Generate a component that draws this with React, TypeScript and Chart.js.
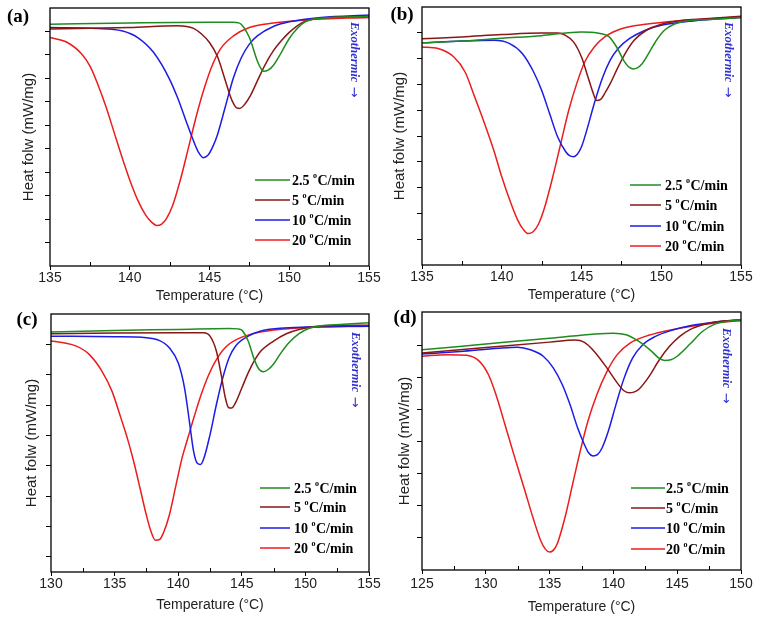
import React, { useEffect, useRef } from "react";
import { Chart, registerables } from "chart.js";

Chart.register(...registerables);

// ---------- data ----------
const rateLabels = ["2.5", "5", "10", "20"];
const rateColors = ["#1e8c1e", "#8a1616", "#1c1ce6", "#ec1c1c"];
const panelTags = ["(a)", "(b)", "(c)", "(d)"];
const xTitle = "Temperature (°C)";
const yTitle = "Heat folw (mW/mg)";
const exoWord = "Exothermic";
const exoArrow = "→";

type P = [number, number];

// panel (a)
const aGreen: P[] = [[135,10.31],[140,10.36],[145,10.39],[146.5,10.39],[146.8,10.37],[147,10.3],[147.5,9.74],[148,8.74],[148.2,8.45],[148.4,8.3],[148.7,8.36],[149,8.55],[149.5,9.1],[150,9.7],[150.5,10.13],[151,10.41],[152,10.56],[155,10.64]];
const aDarkRed: P[] = [[135,10.1],[140,10.17],[143,10.24],[144,10.13],[144.5,9.89],[145,9.53],[145.5,8.93],[146,7.89],[146.3,7.25],[146.5,6.93],[146.7,6.74],[146.9,6.72],[147.2,6.89],[147.6,7.31],[148,7.89],[148.5,8.6],[149,9.17],[149.5,9.6],[150,9.96],[150.5,10.24],[151,10.44],[152,10.57],[155,10.64]];
const aBlue: P[] = [[135,10.17],[138,10.13],[139.5,10.03],[140.5,9.74],[141.5,9.1],[142.5,7.96],[143,7.17],[143.5,6.24],[144,5.33],[144.3,4.86],[144.6,4.62],[144.9,4.72],[145.2,5.08],[145.5,5.6],[146,6.81],[146.5,8.03],[147,8.89],[147.5,9.46],[148,9.81],[149,10.21],[150,10.41],[152,10.6],[155,10.7]];
const aRed: P[] = [[135,9.74],[136,9.56],[137,9.03],[137.5,8.53],[138,7.74],[138.5,6.81],[139,5.74],[139.5,4.67],[140,3.67],[140.5,2.81],[141,2.17],[141.35,1.88],[141.7,1.73],[142,1.79],[142.3,2.02],[142.7,2.6],[143.2,3.74],[143.7,5.1],[144.2,6.46],[144.7,7.64],[145.2,8.6],[145.7,9.27],[146.5,9.81],[147.5,10.17],[149,10.36],[151,10.49],[155,10.6]];
const aYTicks = [1, 2, 3, 4, 5, 6, 7, 8, 9, 10];

// panel (b)
const bGreen: P[] = [[135,8.61],[137.5,8.68],[140,8.79],[142.5,8.89],[144,8.99],[145,9.03],[146,8.99],[146.7,8.86],[147.2,8.45],[147.7,7.87],[148,7.66],[148.25,7.6],[148.5,7.64],[148.8,7.8],[149.2,8.19],[149.7,8.71],[150.2,9.1],[150.8,9.33],[151.5,9.45],[153,9.52],[155,9.59]];
const bDarkRed: P[] = [[135,8.77],[137.5,8.84],[140,8.93],[142.5,8.99],[143.5,8.99],[144,8.9],[144.5,8.65],[145,8.06],[145.4,7.3],[145.7,6.72],[145.95,6.38],[146.2,6.42],[146.5,6.7],[146.8,7.03],[147.3,7.68],[147.8,8.26],[148.3,8.71],[149,9.07],[150,9.33],[151,9.46],[153,9.55],[155,9.64]];
const bBlue: P[] = [[135,8.61],[137.5,8.68],[139.5,8.71],[140.5,8.58],[141.3,8.19],[142,7.48],[142.5,6.77],[143,5.87],[143.5,4.97],[144,4.4],[144.25,4.24],[144.5,4.2],[144.75,4.3],[145,4.58],[145.3,5.16],[145.8,6.26],[146.3,7.23],[146.8,7.94],[147.3,8.39],[148,8.77],[149,9.1],[150,9.29],[152,9.46],[155,9.59]];
const bRed: P[] = [[135,8.45],[136,8.39],[137,8.06],[137.7,7.48],[138.3,6.52],[139,5.35],[139.5,4.45],[140,3.42],[140.5,2.52],[141,1.74],[141.35,1.38],[141.65,1.22],[141.95,1.28],[142.3,1.58],[142.7,2.26],[143.2,3.42],[143.7,4.71],[144.2,6.0],[144.7,7.03],[145.2,7.87],[145.8,8.45],[146.5,8.86],[147.5,9.16],[149,9.33],[151,9.46],[155,9.61]];
const bYTicks = [1, 2, 3, 4, 5, 6, 7, 8, 9];

// panel (c)
const cGreen: P[] = [[130,7.91],[135,7.96],[140,7.99],[144,8.02],[144.7,8.01],[145,7.97],[145.5,7.61],[146,6.98],[146.35,6.68],[146.7,6.6],[147.1,6.68],[147.5,6.85],[148,7.17],[148.7,7.55],[149.5,7.85],[150.3,8.03],[151,8.1],[153,8.16],[155,8.21]];
const cDarkRed: P[] = [[130,7.85],[135,7.87],[140,7.88],[142,7.88],[142.5,7.77],[143,7.28],[143.4,6.45],[143.7,5.75],[143.95,5.42],[144.2,5.4],[144.5,5.57],[145,6.06],[145.5,6.56],[146,6.97],[146.5,7.28],[147.5,7.61],[148.5,7.85],[149.5,7.99],[151,8.1],[155,8.13]];
const cBlue: P[] = [[130,7.77],[135,7.75],[137.5,7.72],[138.5,7.63],[139.3,7.39],[140,6.89],[140.5,6.06],[140.9,4.9],[141.2,4.0],[141.5,3.58],[141.75,3.54],[142,3.72],[142.5,4.52],[143,5.51],[143.5,6.39],[144,7.06],[144.5,7.44],[145.5,7.77],[146.5,7.94],[148,8.03],[150,8.07],[155,8.1]];
const cRed: P[] = [[130,7.61],[131,7.55],[132,7.44],[133,7.17],[134,6.62],[134.8,5.95],[135.5,5.07],[136,4.41],[136.5,3.64],[137,2.76],[137.5,1.87],[137.85,1.35],[138.2,1.05],[138.5,1.06],[138.85,1.3],[139.3,1.87],[139.8,2.81],[140.3,3.75],[140.8,4.47],[141.3,5.18],[141.8,5.84],[142.4,6.5],[143,7.0],[143.8,7.44],[145,7.74],[147,7.94],[150,8.05],[155,8.1]];
const cYTicks = [0.5, 1.5, 2.5, 3.5, 4.5, 5.5, 6.5, 7.5];

// panel (d)
const dGreen: P[] = [[125,6.87],[130,7.05],[135,7.23],[140,7.39],[141,7.34],[142,7.13],[143,6.82],[143.6,6.6],[144,6.54],[144.5,6.56],[145,6.67],[146,7.05],[147,7.45],[148,7.68],[149,7.76],[150,7.81]];
const dDarkRed: P[] = [[125,6.77],[130,6.94],[135,7.11],[137,7.18],[137.7,7.11],[138.5,6.82],[139.5,6.3],[140.3,5.84],[140.8,5.6],[141.2,5.53],[141.6,5.55],[142,5.64],[142.8,6.04],[143.6,6.56],[144.4,6.98],[145.2,7.29],[146,7.5],[147,7.65],[148,7.74],[150,7.81]];
const dBlue: P[] = [[125,6.74],[128,6.82],[131,6.92],[132.5,6.95],[133.5,6.87],[134.5,6.67],[135.3,6.3],[136,5.78],[136.6,5.16],[137.2,4.43],[137.7,3.94],[138.05,3.66],[138.4,3.56],[138.75,3.6],[139.1,3.8],[139.6,4.33],[140.2,5.16],[140.8,5.94],[141.5,6.61],[142.3,7.03],[143.3,7.29],[144.5,7.47],[146,7.62],[148,7.74],[150,7.81]];
const dRed: P[] = [[125,6.67],[127,6.72],[128.5,6.7],[129.5,6.51],[130.2,6.1],[130.8,5.47],[131.5,4.54],[132.2,3.6],[133,2.56],[133.7,1.63],[134.3,0.92],[134.65,0.66],[135,0.56],[135.3,0.62],[135.6,0.82],[136.2,1.63],[136.8,2.67],[137.4,3.71],[138,4.64],[138.7,5.47],[139.5,6.2],[140.3,6.72],[141.3,7.08],[142.5,7.29],[144,7.45],[146,7.6],[148,7.71],[150,7.78]];
const dYTicks = [1, 2, 3, 4, 5, 6, 7];

// axis ranges
const xRanges: P[] = [[135, 155], [135, 155], [130, 155], [125, 150]];
const yRanges: P[] = [[0, 11], [0, 10], [0, 8.5], [0, 8.05]];

// ---------- layout ----------
type Cfg = {
  idx: number;
  left: number; top: number; w: number; h: number;
  area: { l: number; r: number; t: number; b: number };
  series: P[][];
  yTicks: number[];
  yTitlePad: number; xTitlePad: number; xTickPad: number;
  tag: [number, number];
  legend: { x1: number; x2: number; tx: number; rows: number[] };
  exo: [number, number];
};

const panels: Cfg[] = [
  { idx: 0, left: 0, top: 0, w: 400, h: 305, area: { l: 50, r: 369, t: 8, b: 266 },
    series: [aGreen, aDarkRed, aBlue, aRed], yTicks: aYTicks, yTitlePad: 20, xTitlePad: 0.6, xTickPad: 0,
    tag: [18, 17], legend: { x1: 255, x2: 290, tx: 292, rows: [180, 200, 220, 240] }, exo: [354, 22] },
  { idx: 1, left: 379, top: 0, w: 379, h: 305, area: { l: 43, r: 362, t: 7, b: 265 },
    series: [bGreen, bDarkRed, bBlue, bRed], yTicks: bYTicks, yTitlePad: 12, xTitlePad: 1.6, xTickPad: 0,
    tag: [23, 15], legend: { x1: 251, x2: 282, tx: 286, rows: [185, 205, 226, 246] }, exo: [349, 22] },
  { idx: 2, left: 0, top: 305, w: 400, h: 314, area: { l: 51, r: 369, t: 9, b: 267 },
    series: [cGreen, cDarkRed, cBlue, cRed], yTicks: cYTicks, yTitlePad: 23, xTitlePad: 5.6, xTickPad: 0,
    tag: [27, 15], legend: { x1: 260, x2: 290, tx: 294, rows: [183, 202, 223, 243] }, exo: [355, 27] },
  { idx: 3, left: 379, top: 305, w: 379, h: 314, area: { l: 43, r: 362, t: 7, b: 265 },
    series: [dGreen, dDarkRed, dBlue, dRed], yTicks: dYTicks, yTitlePad: 17, xTitlePad: 3.6, xTickPad: 2,
    tag: [26, 13], legend: { x1: 252, x2: 286, tx: 287, rows: [183, 203, 223, 244] }, exo: [347, 23] },
];

const SANS = '"Liberation Sans", Arial, sans-serif';
const SERIF = '"Liberation Serif", "Times New Roman", serif';

function Panel({ cfg }: { cfg: Cfg }) {
  const ref = useRef<HTMLCanvasElement>(null);
  useEffect(() => {
    const canvas = ref.current;
    if (!canvas) return;
    const [xMin, xMax] = xRanges[cfg.idx];
    const [yMin, yMax] = yRanges[cfg.idx];
    const overlay = {
      id: "overlay",
      afterDatasetsDraw(chart: any) {
        const ctx = chart.ctx as CanvasRenderingContext2D;
        const ca = chart.chartArea;
        const xs = chart.scales.x;
        ctx.save();
        // frame
        ctx.strokeStyle = "#000";
        ctx.lineWidth = 1.3;
        ctx.strokeRect(ca.left, ca.top, ca.right - ca.left, ca.bottom - ca.top);
        // minor x ticks (inward)
        ctx.lineWidth = 1;
        for (let v = xMin + 2.5; v < xMax; v += 5) {
          const px = Math.round(xs.getPixelForValue(v)) + 0.5;
          ctx.beginPath();
          ctx.moveTo(px, ca.bottom);
          ctx.lineTo(px, ca.bottom - 4);
          ctx.stroke();
        }
        // panel tag
        ctx.fillStyle = "#000";
        ctx.font = `bold 19px ${SERIF}`;
        ctx.textAlign = "center";
        ctx.textBaseline = "middle";
        ctx.fillText(panelTags[cfg.idx], cfg.tag[0], cfg.tag[1]);
        // legend
        ctx.textAlign = "left";
        cfg.legend.rows.forEach((y, i) => {
          ctx.strokeStyle = rateColors[i];
          ctx.lineWidth = 1.5;
          ctx.beginPath();
          ctx.moveTo(cfg.legend.x1, y);
          ctx.lineTo(cfg.legend.x2, y);
          ctx.stroke();
          ctx.fillStyle = "#000";
          let x = cfg.legend.tx;
          ctx.font = `bold 14px ${SERIF}`;
          const s1 = rateLabels[i] + " ";
          ctx.fillText(s1, x, y + 1);
          x += ctx.measureText(s1).width;
          ctx.font = `bold 8px ${SERIF}`;
          ctx.fillText("o", x, y - 4.5);
          x += ctx.measureText("o").width + 0.5;
          ctx.font = `bold 14px ${SERIF}`;
          ctx.fillText("C/min", x, y + 1);
        });
        // exothermic
        ctx.translate(cfg.exo[0], cfg.exo[1]);
        ctx.rotate(Math.PI / 2);
        ctx.font = `italic bold 12.5px ${SERIF}`;
        ctx.fillStyle = "#3030d0";
        ctx.textAlign = "left";
        ctx.textBaseline = "middle";
        ctx.fillText(exoWord, 0, 0);
        const wWord = ctx.measureText(exoWord).width;
        ctx.font = `13px "DejaVu Sans", sans-serif`;
        ctx.fillText(exoArrow, wWord + 4, 0.5);
        ctx.restore();
      },
    };

    const chart = new Chart(canvas, {
      type: "line",
      data: {
        datasets: cfg.series.map((s, i) => ({
          label: rateLabels[i],
          data: s.map(([x, y]) => ({ x, y })),
          borderColor: rateColors[i],
          backgroundColor: rateColors[i],
          borderWidth: 1.5,
          pointRadius: 0,
          fill: false,
          cubicInterpolationMode: "monotone" as const,
        })),
      },
      options: {
        responsive: false,
        animation: false,
        devicePixelRatio: 1,
        events: [],
        layout: { padding: { left: 0, top: cfg.area.t, right: cfg.w - cfg.area.r, bottom: 0 } },
        plugins: { legend: { display: false }, tooltip: { enabled: false } },
        scales: {
          x: {
            type: "linear",
            min: xMin,
            max: xMax,
            ticks: { stepSize: 5, color: "#222", font: { family: SANS, size: 14 }, padding: cfg.xTickPad, maxRotation: 0 },
            grid: { display: true, drawOnChartArea: false, drawTicks: true, tickLength: 4, color: "#000", lineWidth: 1 },
            border: { display: false },
            title: { display: true, text: xTitle, color: "#222", font: { family: SANS, size: 14 }, padding: { top: 0, bottom: cfg.xTitlePad } },
            afterFit: (sc: any) => {
              sc.height = cfg.h - cfg.area.b;
              sc.paddingLeft = 0;
              sc.paddingRight = 0;
            },
          },
          y: {
            type: "linear",
            min: yMin,
            max: yMax,
            afterBuildTicks: (sc: any) => {
              sc.ticks = cfg.yTicks.map((v) => ({ value: v }));
            },
            ticks: { display: false },
            grid: { display: true, drawOnChartArea: false, drawTicks: true, tickLength: 5, color: "#000", lineWidth: 1 },
            border: { display: false },
            title: { display: true, text: yTitle, color: "#222", font: { family: SANS, size: 15 }, padding: { top: cfg.yTitlePad, bottom: 0 } },
            afterFit: (sc: any) => {
              sc.width = cfg.area.l;
              sc.paddingTop = 0;
              sc.paddingBottom = 0;
            },
          },
        },
      },
      plugins: [overlay],
    } as any);
    return () => chart.destroy();
  }, []);
  return (
    <div style={{ position: "absolute", left: cfg.left, top: cfg.top, width: cfg.w, height: cfg.h }}>
      <canvas ref={ref} width={cfg.w} height={cfg.h} style={{ width: cfg.w, height: cfg.h, display: "block" }} />
    </div>
  );
}

export default function App() {
  return (
    <div style={{ position: "absolute", left: 0, top: 0, width: 758, height: 619, background: "#fff", overflow: "hidden" }}>
      {panels.map((p) => (
        <Panel key={p.idx} cfg={p} />
      ))}
    </div>
  );
}
